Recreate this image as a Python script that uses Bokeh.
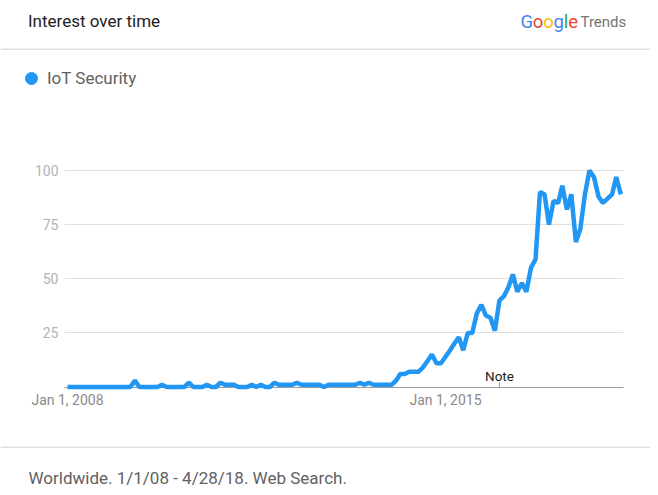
import pandas as pd
from bokeh.plotting import figure
from bokeh.models import Range1d, FixedTicker, Label, Legend, LegendItem, BoxAnnotation
from bokeh.embed import file_html
from bokeh.resources import INLINE

# ---------------- data ----------------
SERIES_NAME = "IoT Security"
START_MONTH = "2008-01-01"
INTEREST = [
    0, 0, 0, 0, 0, 0, 0, 0, 0, 0, 0, 0,            # 2008
    0, 0, 0, 3, 0, 0, 0, 0, 0, 1, 0, 0,            # 2009
    0, 0, 0, 2, 0, 0, 0, 1, 0, 0, 2, 1,            # 2010
    1, 1, 0, 0, 0, 1, 0, 1, 0, 0, 2, 1,            # 2011
    1, 1, 1, 2, 1, 1, 1, 1, 1, 0, 1, 1,            # 2012
    1, 1, 1, 1, 1, 2, 1, 2, 1, 1, 1, 1,            # 2013
    1, 3, 6, 6, 7, 7, 7, 9, 12, 15, 11, 11,        # 2014
    14, 17, 20, 23, 17, 25, 25, 34, 38, 33, 32, 26,  # 2015
    40, 42, 46, 52, 44, 48, 44, 55, 59, 90, 89, 75,  # 2016
    86, 85, 93, 82, 89, 67, 73, 89, 100, 97, 88, 85,  # 2017
    87, 89, 97, 89,                                # 2018
]
Y_TICKS = [25, 50, 75, 100]
X_TICK_DATES = ["2008-01-01", "2015-01-01"]
X_TICK_LABELS = ["Jan 1, 2008", "Jan 1, 2015"]
NOTE_DATE = "2016-01-01"
NOTE_TEXT = "Note"
TITLE = "Interest over time"
FOOTER = "Worldwide. 1/1/08 - 4/28/18. Web Search."
BRAND_LETTERS = ["G", "o", "o", "g", "l", "e"]
BRAND_COLORS = ["#4285F4", "#EA4335", "#FBBC05", "#4285F4", "#34A853", "#EA4335"]
BRAND_WORD = "Trends"

# ---------------- layout (page px; the frame is the whole figure) ----------------
W, H = 650, 487
CH_L, CH_R = 64, 623          # chart area left / right
X0_PX, X1_PX = 67, 445        # page x of the two x ticks
Y0_PX, Y100_PX = 386.5, 170   # page y of value 0 and value 100
FONT = "Roboto"
BLUE = "#2196F3"
SEP = "#e0e0e0"


def ms(d):
    return pd.Timestamp(d).value / 1e6


ppm = (X1_PX - X0_PX) / (ms(X_TICK_DATES[1]) - ms(X_TICK_DATES[0]))
x_start = ms(X_TICK_DATES[0]) - X0_PX / ppm
x_end = x_start + W / ppm
k = (Y0_PX - Y100_PX) / 100.0
y_start = -(H - Y0_PX) / k
y_end = Y0_PX / k


def xd(px):   # page x -> data x
    return x_start + px / ppm


def sy(page_y):   # page y -> screen units (measured up from frame bottom)
    return H - page_y


months = pd.date_range(START_MONTH, periods=len(INTEREST), freq="MS")

p = figure(width=W, height=H, x_axis_type="datetime",
           x_range=Range1d(x_start, x_end), y_range=Range1d(y_start, y_end),
           output_backend="svg", toolbar_location=None, title=None,
           min_border_left=0, min_border_right=0, min_border_top=0, min_border_bottom=0)
p.outline_line_color = None
p.background_fill_color = "white"
p.border_fill_color = "white"

# ---- axes (drawn inside the frame at fixed locations) ----
yax = p.yaxis[0]
yax.fixed_location = xd(CH_L)
yax.ticker = FixedTicker(ticks=Y_TICKS)
yax.axis_line_color = None
yax.major_tick_line_color = None
yax.minor_tick_line_color = None
yax.major_tick_out = 0
yax.major_tick_in = 0
yax.major_label_standoff = 6
yax.major_label_text_font = FONT
yax.major_label_text_font_size = "14px"
yax.major_label_text_color = "#b3b3b3"

xax = p.xaxis[0]
xax.fixed_location = 0
xax.bounds = (xd(CH_L), xd(CH_R))
xax.level = "underlay"
xax.ticker = FixedTicker(ticks=[ms(d) for d in X_TICK_DATES])
xax.major_label_overrides = {ms(d): lab for d, lab in zip(X_TICK_DATES, X_TICK_LABELS)}
xax.axis_line_color = "#9e9e9e"
xax.axis_line_width = 1
xax.major_tick_line_color = None
xax.minor_tick_line_color = None
xax.major_tick_out = 0
xax.major_tick_in = 0
xax.major_label_standoff = 5
xax.major_label_text_font = FONT
xax.major_label_text_font_size = "14px"
xax.major_label_text_color = "#8a8a8a"

p.xgrid.grid_line_color = None
try:
    p.ygrid.cross_bounds = (xd(CH_L), xd(CH_R))
    p.ygrid.grid_line_color = SEP
    p.ygrid.grid_line_width = 1
except AttributeError:
    p.ygrid.grid_line_color = None
    p.segment(x0=[xd(CH_L)] * len(Y_TICKS), x1=[xd(CH_R)] * len(Y_TICKS),
              y0=Y_TICKS, y1=Y_TICKS, line_color=SEP, line_width=1, level="underlay")

# ---- series ----
p.line(x=months, y=INTEREST, line_color=BLUE, line_width=4.5)

# ---- note marker ----
note_x = pd.Timestamp(NOTE_DATE)
p.segment(x0=[note_x], y0=[0], x1=[note_x], y1=[5 / k], line_color="#9e9e9e", line_width=1)
p.add_layout(Label(x=ms(NOTE_DATE), y=sy(375.5), x_units="data", y_units="screen",
                   text=NOTE_TEXT, text_align="center", text_baseline="middle",
                   text_font=FONT, text_font_size="13.5px", text_color="#212121"))

# ---- header ----
p.add_layout(Label(x=27.5, y=sy(20), x_units="screen", y_units="screen",
                   text=TITLE, text_baseline="middle", text_font=FONT,
                   text_font_size="17px", text_color="#212121"))
widths = {"G": 0.668, "o": 0.557, "g": 0.560, "l": 0.243, "e": 0.529}
bx = 520.0
for ch, col in zip(BRAND_LETTERS, BRAND_COLORS):
    p.add_layout(Label(x=bx, y=sy(21), x_units="screen", y_units="screen",
                       text=ch, text_baseline="middle", text_font=FONT,
                       text_font_size="18.5px", text_color=col))
    bx += widths[ch] * 18.5
p.add_layout(Label(x=580, y=sy(21), x_units="screen", y_units="screen",
                   text=BRAND_WORD, text_baseline="middle", text_font=FONT,
                   text_font_size="15px", text_color="#757575"))

for yy in (48, 446):
    p.add_layout(BoxAnnotation(top=sy(yy), bottom=sy(yy + 1.5),
                               top_units="screen", bottom_units="screen",
                               fill_color=SEP, fill_alpha=1, line_alpha=0))

dot = p.scatter(x=[months[0]], y=[float("nan")], marker="circle", size=12,
                fill_color=BLUE, line_color=BLUE)
legend = Legend(items=[LegendItem(label=SERIES_NAME, renderers=[dot])],
                location=(16, sy(93)), padding=0, margin=0, spacing=0,
                glyph_width=30, glyph_height=30, label_standoff=1,
                label_text_font=FONT, label_text_font_size="17px",
                label_text_color="#616161", border_line_color=None,
                background_fill_alpha=0)
p.add_layout(legend)

# ---- footer ----
p.add_layout(Label(x=28, y=sy(477), x_units="screen", y_units="screen",
                   text=FOOTER, text_baseline="middle", text_font=FONT,
                   text_font_size="17px", text_color="#616161"))

open("out.html", "w").write(file_html(p, INLINE))
